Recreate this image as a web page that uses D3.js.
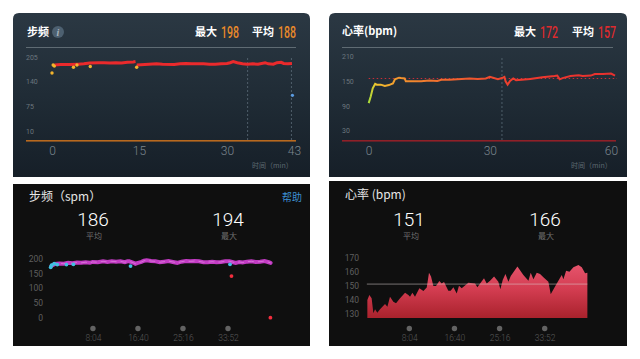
<!DOCTYPE html>
<html><head><meta charset="utf-8">
<script src="https://cdn.jsdelivr.net/npm/d3@7/dist/d3.min.js"></script>
<style>html,body{margin:0;padding:0;background:#fff;overflow:hidden}svg{display:block}
text{font-family:"Noto Sans CJK SC","Noto Sans",sans-serif}</style></head><body>
<script>
// Cadence, Top-left
const tlTime=[0.4,1.5,3,4.5,5.5,6.5,8,9,10,11,12,13,14,14.4,14.6,16,18,19,21,22,23,24,25,26,27,28,29,30,30.6,31.2,32,33,34,35,36,37.4,38,39,39.7,40.5,41,41.8,42.6];
const tlCad=[184,185,185,186,187,189,190,190,189,190,189,191,192,193,184,185,187,186,185,187,188,187,187,187,186,186,187,188,190,193,190,187,186,187,186,190,187,186,190,191,188,187,188];
const tlDotT=[0,0.2,0.4,3.7,4.3,6.6,14.6];
const tlDotV=[163,184,181,178,184,180,178];
const tlBlueT=[42.7], tlBlueV=[104];
const tlMarks=[34,42.5];
// Heart rate, Top-right
const trTime=[0,0.5,1,1.6,2,3,4,5,6,6.5,7.5,8,8.9,9.2,11,13,15,17,18,20,23,25,27,29,30,32,33,33.6,33.9,34.4,35,35.8,36.5,40,43,46,46.7,47.3,48,50,52,53,55,56,58,60,61];
const trHr=[97,113,133,144,142,142,139,141,145,155,159,158,157,150,150,150,152,151,154,154,156,157,156,157,161,155,158,161,150,142,151,157,153,156,160,163,164,155,158,163,165,163,164,168,168,169,164];
const trAvg=157, trMark=33;
// Cadence, Bottom-left (seconds)
const blTime=[10,50,100,150,200,250,300,350,400,450,480,540,600,650,700,750,800,850,880,900,950,970,1000,1040,1070,1100,1150,1200,1250,1300,1350,1400,1450,1500,1550,1600,1650,1700,1750,1800,1850,1900,1950,2000,2050,2080,2120,2160,2200,2250,2300,2350,2400,2450,2500,2520];
const blCad=[176,182,184,183,186,185,187,186,188,186,189,188,191,189,191,190,191,188,191,191,186,183,186,189,193,195,192,191,188,190,192,189,186,190,192,191,192,191,188,188,190,188,189,191,191,189,186,189,187,190,191,189,190,192,188,186];
const blBlueT=[0,10,40,75,180,260,915,2055];
const blBlueV=[171,178,183,180,180,181,175,181];
const blRedT=[2072,2518], blRedV=[141,0];
// Heart rate, Bottom-right (seconds)
const brTime=[4,27,53,73,92,118,149,206,233,263,301,332,378,435,473,492,519,549,599,645,683,709,732,759,789,827,854,881,930,957,988,1026,1052,1083,1159,1236,1262,1338,1369,1407,1453,1502,1525,1552,1583,1617,1644,1720,1788,1846,1872,1903,1941,1979,2017,2074,2101,2170,2227,2246,2277,2315,2360,2418,2456,2494,2520];
const brHr=[139.7,143.3,140.9,130.3,133.1,130.7,133.1,136.9,135,142.1,138.5,137.4,140.9,144.9,143.3,142.1,144.9,142.1,148,146.1,148.5,159.1,156.3,149.7,149.7,153.2,151.5,152.5,146.3,146.3,148.7,144.4,149.9,148,152,151.5,148.7,155.1,151.5,153.4,156.3,152.7,147.3,153.9,158.2,152.7,156.7,163.4,157.5,153.4,159.1,154.4,159.1,158.2,155.8,152.7,143.8,151.5,157.5,154.4,160.5,159.8,162.9,164.5,162.9,158.6,159.1];
const brAvg=151, brFloor=127;
const yTicksTL=[10,75,140,205], yTicksTR=[30,90,150,210], yTicksBL=[0,50,100,150,200], yTicksBR=[130,140,150,160,170];
const xTicksTL=[0,15,30,43], xTicksTR=[0,30,60];
const xTickSec=[484,1000,1516,2032], xTickLab=["8:04","16:40","25:16","33:52"];

const svg=d3.select("body").append("svg").attr("width",640).attr("height",359);
const defs=svg.append("defs");
function grad(id,attrs,stops){const g=defs.append("linearGradient").attr("id",id);
  Object.entries(attrs).forEach(([k,v])=>g.attr(k,v));
  stops.forEach(([o,c])=>g.append("stop").attr("offset",o).attr("stop-color",c));}
grad("panel",{x1:0,y1:0,x2:0,y2:1},[[0,"#2b3843"],[0.5,"#202c36"],[1,"#161f28"]]);

function topPanel(x,w){
  svg.append("path").attr("fill","url(#panel)")
   .attr("d",`M${x},177V19Q${x},13 ${x+6},13H${x+w-6}Q${x+w},13 ${x+w},19V177Z`);
  svg.append("rect").attr("x",x+13).attr("y",47).attr("width",w-27).attr("height",1).attr("fill","#5f6b73");
}
function text(x,y,s,o={}){const t=svg.append("text").attr("x",x).attr("y",y).text(s)
  .attr("font-size",o.size||10).attr("fill",o.fill||"#fff").attr("text-anchor",o.anchor||"start")
  .attr("font-weight",o.weight||400).style("font-family",o.font||null);
  if(o.len)t.attr("textLength",o.len).attr("lengthAdjust","spacingAndGlyphs");
  return t;}
function axisY(scale,ticks,x,size,fill,anchorX){
  const g=svg.append("g").attr("transform",`translate(${x},0)`)
    .call(d3.axisLeft(scale).tickValues(ticks).tickSize(0).tickPadding(0));
  g.select(".domain").remove();
  g.selectAll("text").attr("font-size",size).attr("fill",fill).attr("text-anchor",anchorX||"end").attr("font-family",null).style("font-family","Roboto,sans-serif");
}
function axisX(scale,ticks,labels,y,size,fill){
  const g=svg.append("g").attr("transform",`translate(0,${y})`)
    .call(d3.axisBottom(scale).tickValues(ticks).tickSize(0).tickPadding(0).tickFormat((d,i)=>labels?labels[i]:d));
  g.select(".domain").remove();
  g.selectAll("text").attr("font-size",size).attr("fill",fill).attr("font-family",null).style("font-family","Roboto,sans-serif").attr("font-weight",300);
  return g;
}
const num='"Roboto",sans-serif';

// ---- Top-left
topPanel(13,297);
text(27,36,"步频",{size:11,weight:700});
svg.append("circle").attr("cx",58).attr("cy",32).attr("r",6).attr("fill","#4d6070");
text(58,36,"i",{size:10,anchor:"middle",fill:"#a8b4bc",weight:700}).style("font-style","italic").style("font-family","Liberation Serif");
text(195,36,"最大",{size:11,weight:700});
text(221,38,"198",{size:16,fill:"#e98a2a",font:num,weight:500,len:18});
text(252,36,"平均",{size:11,weight:700});
text(278,38,"188",{size:16,fill:"#e98a2a",font:num,weight:500,len:18});
const xTL=d3.scaleLinear().domain([0,15,30,43]).range([52,139,227,294]);
const yTL=d3.scaleLinear().domain([10,205]).range([131,57]);
axisY(yTL,yTicksTL,26,7,"#6b767e","start");
tlMarks.forEach(t=>svg.append("line").attr("x1",xTL(t)).attr("x2",xTL(t)).attr("y1",58).attr("y2",140)
  .attr("stroke","#5c6c78").attr("stroke-width",.8).attr("stroke-dasharray","2 2"));
svg.append("rect").attr("x",26).attr("y",140).attr("width",270).attr("height",1.6).attr("fill","#b8691f");
const lTL=d3.line().x((d,i)=>xTL(tlTime[i])).y(d=>yTL(d));
svg.append("path").attr("d",lTL(tlCad.slice(0,14))).attr("fill","none").attr("stroke","#ea2a2c").attr("stroke-width",3);
const lTL2=d3.line().x((d,i)=>xTL(tlTime[i+14])).y(d=>yTL(d));
svg.append("path").attr("d",lTL2(tlCad.slice(14))).attr("fill","none").attr("stroke","#ea2a2c").attr("stroke-width",3);
svg.selectAll(null).data(tlDotV).enter().append("circle").attr("cx",(d,i)=>xTL(tlDotT[i])).attr("cy",d=>yTL(d)).attr("r",1.7).attr("fill","#f3b42c");
svg.selectAll(null).data(tlBlueV).enter().append("circle").attr("cx",(d,i)=>xTL(tlBlueT[i])).attr("cy",d=>yTL(d)).attr("r",1.6).attr("fill","#5b9be0");
axisX(xTL,xTicksTL,null,146,12,"#7b868e");
text(252,168,"时间（min）",{size:7,fill:"#5f6a72"});

// ---- Top-right
topPanel(329,298);
text(342,35,"心率(bpm)",{size:11,weight:700});
text(514,36,"最大",{size:11,weight:700});
text(540,38,"172",{size:16,fill:"#dd2b2e",font:num,weight:500,len:18});
text(572,36,"平均",{size:11,weight:700});
text(598,38,"157",{size:16,fill:"#dd2b2e",font:num,weight:500,len:18});
const xTR=d3.scaleLinear().domain([0,60]).range([368.7,611]);
const yTR=d3.scaleLinear().domain([30,210]).range([130.7,56.7]);
axisY(yTR,yTicksTR,342,7,"#6b767e","start");
svg.append("line").attr("x1",xTR(trMark)).attr("x2",xTR(trMark)).attr("y1",58).attr("y2",140)
  .attr("stroke","#5c6c78").attr("stroke-width",.8).attr("stroke-dasharray","2 2");
svg.append("rect").attr("x",342).attr("y",140).attr("width",274).attr("height",1.6).attr("fill","#8f2028");
svg.append("line").attr("x1",xTR(0)).attr("x2",617).attr("y1",yTR(trAvg)).attr("y2",yTR(trAvg))
  .attr("stroke","#c9303a").attr("stroke-width",1).attr("stroke-dasharray","1.5 2.5");
grad("hrLine",{gradientUnits:"userSpaceOnUse",x1:xTR(0),x2:xTR(61),y1:0,y2:0},[[0,"#a8dd3a"],[0.03,"#f2c42e"],[0.12,"#f2962e"],[0.3,"#f06a2e"],[0.6,"#ee3a2e"],[1,"#e8302e"]]);
svg.append("path").attr("d",d3.line().x((d,i)=>xTR(trTime[i])).y(d=>yTR(d))(trHr))
  .attr("fill","none").attr("stroke","url(#hrLine)").attr("stroke-width",2);
axisX(xTR,xTicksTR,null,146,12,"#7b868e");
text(571,168,"时间（min）",{size:7,fill:"#5f6a72"});

// ---- Bottom-left
svg.append("rect").attr("x",13).attr("y",184).attr("width",297).attr("height",162).attr("fill","#0f0f0f");
text(29,201,"步频（spm）",{size:12,fill:"#e6e6e6"});
text(282,201,"帮助",{size:10,fill:"#3d8fd1"});
text(93,226,"186",{size:19,anchor:"middle",font:"Roboto",fill:"#fff"}).attr("font-weight",300);
text(94,239,"平均",{size:8,anchor:"middle",fill:"#707070"});
text(228,226,"194",{size:19,anchor:"middle",font:"Roboto",fill:"#fff"}).attr("font-weight",300);
text(229,239,"最大",{size:8,anchor:"middle",fill:"#707070"});
const xBL=d3.scaleLinear().domain([0,2032]).range([50.7,228]);
const yBL=d3.scaleLinear().domain([0,200]).range([317.7,258.7]);
axisY(yBL,yTicksBL,43,8.5,"#5f5f5f");
svg.append("path").attr("d",d3.line().x((d,i)=>xBL(blTime[i])).y(d=>yBL(d))(blCad))
  .attr("fill","none").attr("stroke","#c33cc4").attr("stroke-width",4).attr("stroke-linecap","round");
svg.append("path").attr("d",d3.line().x((d,i)=>xBL(blTime[i])).y(d=>yBL(d))(blCad))
  .attr("fill","none").attr("stroke","#e497e4").attr("stroke-width",.6).attr("stroke-dasharray","6 4");
svg.selectAll(null).data(blBlueV).enter().append("circle").attr("cx",(d,i)=>xBL(blBlueT[i])).attr("cy",d=>yBL(d)).attr("r",1.9).attr("fill","#3fc1e2");
svg.selectAll(null).data(blRedV).enter().append("circle").attr("cx",(d,i)=>xBL(blRedT[i])).attr("cy",d=>yBL(d)).attr("r",1.9).attr("fill","#f32d3d");
svg.selectAll(null).data(xTickSec).enter().append("circle").attr("cx",d=>xBL(d)).attr("cy",328.5).attr("r",2.7).attr("fill","#636363");
axisX(xBL,xTickSec,xTickLab,335,8.5,"#585858");

// ---- Bottom-right
svg.append("rect").attr("x",329).attr("y",181).attr("width",298).attr("height",165).attr("fill","#0f0f0f");
text(345,199,"心率 (bpm)",{size:12,fill:"#e6e6e6"});
text(409,226,"151",{size:19,anchor:"middle",font:"Roboto",fill:"#fff"}).attr("font-weight",300);
text(411,239,"平均",{size:8,anchor:"middle",fill:"#707070"});
text(545,226,"166",{size:19,anchor:"middle",font:"Roboto",fill:"#fff"}).attr("font-weight",300);
text(546,239,"最大",{size:8,anchor:"middle",fill:"#707070"});
const xBR=d3.scaleLinear().domain([0,2032]).range([367,544.7]);
const yBR=d3.scaleLinear().domain([130,170]).range([313.7,257.3]);
axisY(yBR,yTicksBR,359,8.5,"#5f5f5f");
grad("hrArea",{gradientUnits:"userSpaceOnUse",x1:0,x2:0,y1:262,y2:318},[[0,"#e8566f"],[0.5,"#d23c50"],[1,"#a9222c"]]);
const aBR=d3.area().x((d,i)=>xBR(brTime[i])).y1(d=>yBR(d)).y0(yBR(brFloor));
svg.append("path").attr("d",aBR(brHr)).attr("fill","url(#hrArea)");
svg.append("line").attr("x1",xBR(brTime[0])-.5).attr("x2",xBR(brTime[brTime.length-1])).attr("y1",yBR(brAvg)).attr("y2",yBR(brAvg))
  .attr("stroke","#d8d0d0").attr("stroke-opacity",.65).attr("stroke-width",.8);
svg.selectAll(null).data(xTickSec).enter().append("circle").attr("cx",d=>xBR(d)).attr("cy",328.5).attr("r",2.7).attr("fill","#636363");
axisX(xBR,xTickSec,xTickLab,335,8.5,"#585858");
</script></body></html>
